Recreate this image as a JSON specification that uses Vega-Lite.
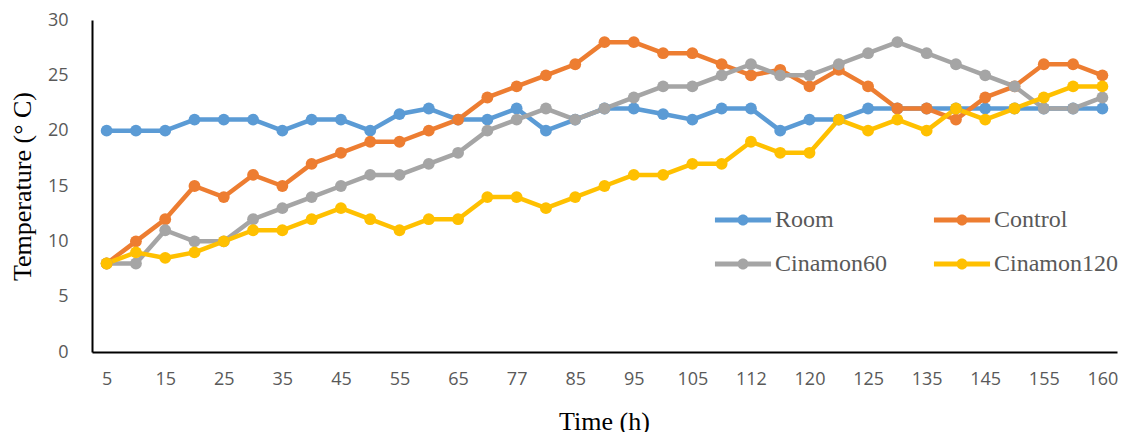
{
  "$schema": "https://vega.github.io/schema/vega-lite/v6.json",
  "autosize": {"type": "none"},
  "padding": {"left": 92, "top": 20, "right": 5, "bottom": 80},
  "width": 1025,
  "height": 332,
  "background": "white",
  "config": {"view": {"stroke": null}},
  "data": {"values": [
    {"time":"5","series":"Room","temp":20},{"time":"10","series":"Room","temp":20},{"time":"15","series":"Room","temp":20},{"time":"20","series":"Room","temp":21},{"time":"25","series":"Room","temp":21},{"time":"30","series":"Room","temp":21},{"time":"35","series":"Room","temp":20},{"time":"40","series":"Room","temp":21},{"time":"45","series":"Room","temp":21},{"time":"50","series":"Room","temp":20},{"time":"55","series":"Room","temp":21.5},{"time":"60","series":"Room","temp":22},{"time":"65","series":"Room","temp":21},{"time":"70","series":"Room","temp":21},{"time":"77","series":"Room","temp":22},{"time":"80","series":"Room","temp":20},{"time":"85","series":"Room","temp":21},{"time":"90","series":"Room","temp":22},{"time":"95","series":"Room","temp":22},{"time":"100","series":"Room","temp":21.5},{"time":"105","series":"Room","temp":21},{"time":"108","series":"Room","temp":22},{"time":"112","series":"Room","temp":22},{"time":"116","series":"Room","temp":20},{"time":"120","series":"Room","temp":21},{"time":"122","series":"Room","temp":21},{"time":"125","series":"Room","temp":22},{"time":"130","series":"Room","temp":22},{"time":"135","series":"Room","temp":22},{"time":"140","series":"Room","temp":22},{"time":"145","series":"Room","temp":22},{"time":"150","series":"Room","temp":22},{"time":"155","series":"Room","temp":22},{"time":"158","series":"Room","temp":22},{"time":"160","series":"Room","temp":22},
    {"time":"5","series":"Control","temp":8},{"time":"10","series":"Control","temp":10},{"time":"15","series":"Control","temp":12},{"time":"20","series":"Control","temp":15},{"time":"25","series":"Control","temp":14},{"time":"30","series":"Control","temp":16},{"time":"35","series":"Control","temp":15},{"time":"40","series":"Control","temp":17},{"time":"45","series":"Control","temp":18},{"time":"50","series":"Control","temp":19},{"time":"55","series":"Control","temp":19},{"time":"60","series":"Control","temp":20},{"time":"65","series":"Control","temp":21},{"time":"70","series":"Control","temp":23},{"time":"77","series":"Control","temp":24},{"time":"80","series":"Control","temp":25},{"time":"85","series":"Control","temp":26},{"time":"90","series":"Control","temp":28},{"time":"95","series":"Control","temp":28},{"time":"100","series":"Control","temp":27},{"time":"105","series":"Control","temp":27},{"time":"108","series":"Control","temp":26},{"time":"112","series":"Control","temp":25},{"time":"116","series":"Control","temp":25.5},{"time":"120","series":"Control","temp":24},{"time":"122","series":"Control","temp":25.5},{"time":"125","series":"Control","temp":24},{"time":"130","series":"Control","temp":22},{"time":"135","series":"Control","temp":22},{"time":"140","series":"Control","temp":21},{"time":"145","series":"Control","temp":23},{"time":"150","series":"Control","temp":24},{"time":"155","series":"Control","temp":26},{"time":"158","series":"Control","temp":26},{"time":"160","series":"Control","temp":25},
    {"time":"5","series":"Cinamon60","temp":8},{"time":"10","series":"Cinamon60","temp":8},{"time":"15","series":"Cinamon60","temp":11},{"time":"20","series":"Cinamon60","temp":10},{"time":"25","series":"Cinamon60","temp":10},{"time":"30","series":"Cinamon60","temp":12},{"time":"35","series":"Cinamon60","temp":13},{"time":"40","series":"Cinamon60","temp":14},{"time":"45","series":"Cinamon60","temp":15},{"time":"50","series":"Cinamon60","temp":16},{"time":"55","series":"Cinamon60","temp":16},{"time":"60","series":"Cinamon60","temp":17},{"time":"65","series":"Cinamon60","temp":18},{"time":"70","series":"Cinamon60","temp":20},{"time":"77","series":"Cinamon60","temp":21},{"time":"80","series":"Cinamon60","temp":22},{"time":"85","series":"Cinamon60","temp":21},{"time":"90","series":"Cinamon60","temp":22},{"time":"95","series":"Cinamon60","temp":23},{"time":"100","series":"Cinamon60","temp":24},{"time":"105","series":"Cinamon60","temp":24},{"time":"108","series":"Cinamon60","temp":25},{"time":"112","series":"Cinamon60","temp":26},{"time":"116","series":"Cinamon60","temp":25},{"time":"120","series":"Cinamon60","temp":25},{"time":"122","series":"Cinamon60","temp":26},{"time":"125","series":"Cinamon60","temp":27},{"time":"130","series":"Cinamon60","temp":28},{"time":"135","series":"Cinamon60","temp":27},{"time":"140","series":"Cinamon60","temp":26},{"time":"145","series":"Cinamon60","temp":25},{"time":"150","series":"Cinamon60","temp":24},{"time":"155","series":"Cinamon60","temp":22},{"time":"158","series":"Cinamon60","temp":22},{"time":"160","series":"Cinamon60","temp":23},
    {"time":"5","series":"Cinamon120","temp":8},{"time":"10","series":"Cinamon120","temp":9},{"time":"15","series":"Cinamon120","temp":8.5},{"time":"20","series":"Cinamon120","temp":9},{"time":"25","series":"Cinamon120","temp":10},{"time":"30","series":"Cinamon120","temp":11},{"time":"35","series":"Cinamon120","temp":11},{"time":"40","series":"Cinamon120","temp":12},{"time":"45","series":"Cinamon120","temp":13},{"time":"50","series":"Cinamon120","temp":12},{"time":"55","series":"Cinamon120","temp":11},{"time":"60","series":"Cinamon120","temp":12},{"time":"65","series":"Cinamon120","temp":12},{"time":"70","series":"Cinamon120","temp":14},{"time":"77","series":"Cinamon120","temp":14},{"time":"80","series":"Cinamon120","temp":13},{"time":"85","series":"Cinamon120","temp":14},{"time":"90","series":"Cinamon120","temp":15},{"time":"95","series":"Cinamon120","temp":16},{"time":"100","series":"Cinamon120","temp":16},{"time":"105","series":"Cinamon120","temp":17},{"time":"108","series":"Cinamon120","temp":17},{"time":"112","series":"Cinamon120","temp":19},{"time":"116","series":"Cinamon120","temp":18},{"time":"120","series":"Cinamon120","temp":18},{"time":"122","series":"Cinamon120","temp":21},{"time":"125","series":"Cinamon120","temp":20},{"time":"130","series":"Cinamon120","temp":21},{"time":"135","series":"Cinamon120","temp":20},{"time":"140","series":"Cinamon120","temp":22},{"time":"145","series":"Cinamon120","temp":21},{"time":"150","series":"Cinamon120","temp":22},{"time":"155","series":"Cinamon120","temp":23},{"time":"158","series":"Cinamon120","temp":24},{"time":"160","series":"Cinamon120","temp":24}
  ]},
  "mark": {"type": "line", "strokeWidth": 4.5, "strokeJoin": "round", "strokeCap": "round", "point": {"filled": true, "size": 140, "opacity": 1}},
  "encoding": {
    "x": {
      "field": "time", "type": "ordinal", "sort": null,
      "scale": {"type": "point", "padding": 0.5},
      "axis": {
        "values": ["5","15","25","35","45","55","65","77","85","95","105","112","120","125","135","145","155","160"],
        "labelAngle": 0, "ticks": false, "grid": false,
        "domainColor": "#000000", "domainWidth": 2,
        "labelFont": "Open Sans", "labelFontSize": 18, "labelColor": "#595959", "labelPadding": 18,
        "title": "Time (h)", "titleFont": "Liberation Serif", "titleFontSize": 26, "titleFontWeight": "normal", "titleColor": "#000000",
        "titleX": 512, "titleY": 77, "titleBaseline": "alphabetic", "titleAlign": "center"
      }
    },
    "y": {
      "field": "temp", "type": "quantitative",
      "scale": {"domain": [0, 30], "nice": false, "zero": true},
      "axis": {
        "values": [0, 5, 10, 15, 20, 25, 30],
        "ticks": false, "grid": false,
        "domainColor": "#000000", "domainWidth": 2,
        "labelFont": "Open Sans", "labelFontSize": 18, "labelColor": "#595959", "labelPadding": 24,
        "title": "Temperature (° C)", "titleFont": "Liberation Serif", "titleFontSize": 26, "titleFontWeight": "normal", "titleColor": "#000000",
        "titleAngle": 270, "titleX": -70, "titleY": 166, "titleBaseline": "middle", "titleAlign": "center"
      }
    },
    "color": {
      "field": "series", "type": "nominal",
      "scale": {"domain": ["Room", "Control", "Cinamon60", "Cinamon120"], "range": ["#5B9BD5", "#ED7D31", "#A5A5A5", "#FFC000"]},
      "legend": {
        "title": null, "orient": "none", "legendX": 636, "legendY": 185, "columns": 2, "direction": "horizontal",
        "padding": 0, "columnPadding": 46, "rowPadding": 17,
        "symbolType": "M-1.87,-0.167L1.87,-0.167L1.87,0.167L-1.87,0.167Z M0.367,0 A0.367,0.367 0 1,1 -0.367,0 A0.367,0.367 0 1,1 0.367,0 Z",
        "symbolSize": 900, "symbolStrokeWidth": 0, "labelOffset": 17,
        "labelFont": "Liberation Serif", "labelFontSize": 24, "labelColor": "#595959", "labelLimit": 300,
        "encode": {"symbols": {"update": {"fill": {"scale": "color", "field": "value"}, "fillOpacity": {"value": 1}, "strokeWidth": {"value": 0}}}}
      }
    }
  }
}
